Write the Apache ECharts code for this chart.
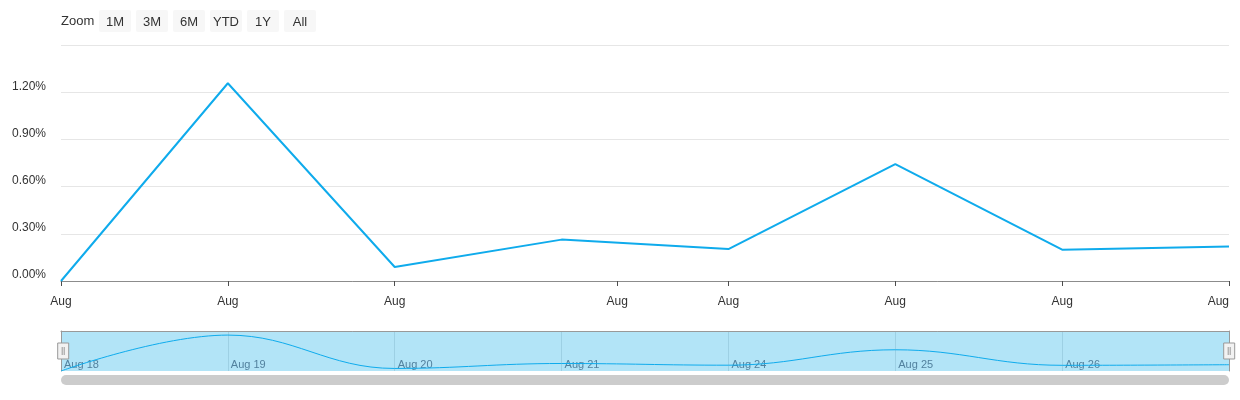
<!DOCTYPE html>
<html>
<head>
<meta charset="utf-8">
<script src="https://cdn.jsdelivr.net/npm/echarts@6/dist/echarts.min.js"></script>
<style>
  html, body { margin: 0; padding: 0; background: #fff; }
  #chart { width: 1240px; height: 400px; }
</style>
</head>
<body>
<div id="chart"></div>
<script>
// trading days, shown on an ordinal axis (gaps for weekends removed)
var dates = ['Aug 18', 'Aug 19', 'Aug 20', 'Aug 21', 'Aug 24', 'Aug 25', 'Aug 26', 'Aug 27'];
var returns = [0, 1.257, 0.089, 0.263, 0.203, 0.743, 0.199, 0.220];
// date ticks of the main axis, in ordinal units (Aug 22 falls a third into the weekend gap)
var xTickPos = [0, 1, 2, 3.333, 4, 5, 6, 7];
var xTickText = 'Aug';
var navTickPos = [0, 1, 2, 3, 4, 5, 6];
var rangeButtons = ['1M', '3M', '6M', 'YTD', '1Y', 'All'];

var FONT = "'Liberation Sans', Arial, sans-serif";
var LINE = '#0fabec';
var NAV_EDGE = '#999';

var chart = echarts.init(document.getElementById('chart'));

var seriesData = returns.map(function (v, i) { return [i, v]; });

// range selector buttons (decoration only)
var btnGraphics = [{
	type: 'text', left: 61, top: 15,
	style: { text: 'Zoom', fill: '#333', font: '13px ' + FONT }
}];
rangeButtons.forEach(function (b, i) {
	btnGraphics.push({
		type: 'group', left: 99 + i * 37, top: 10,
		children: [
			{ type: 'rect', shape: { x: 0, y: 0, width: 32, height: 22, r: 2 }, style: { fill: '#f7f7f7' } },
			{ type: 'text', x: 16, y: 12, style: { text: b, fill: '#333', font: '13px ' + FONT, align: 'center', verticalAlign: 'middle' } }
		]
	});
});
// navigator scrollbar
btnGraphics.push({
	type: 'rect', left: 61, top: 375,
	shape: { width: 1168, height: 10, r: 5 },
	style: { fill: '#cccccc' }
});

var option = {
	animation: false,
	textStyle: { fontFamily: FONT },
	graphic: btnGraphics,
	grid: [
		{ left: 61, right: 11, top: 45, height: 236 },
		{ left: 61, right: 11, top: 331, height: 40, show: true, backgroundColor: '#b2e4f7', borderWidth: 0 }
	],
	xAxis: [{
		type: 'value', gridIndex: 0, min: 0, max: 7,
		axisLine: { show: true, onZero: false, lineStyle: { color: '#8c8c8c', width: 1 } },
		axisTick: { show: true, length: 5, customValues: xTickPos, lineStyle: { color: '#4d4d4d' } },
		axisLabel: {
			customValues: xTickPos, color: '#333', fontSize: 12, margin: 15,
			alignMaxLabel: 'right',
			formatter: function () { return xTickText; }
		},
		splitLine: { show: false }
	}, {
		type: 'value', gridIndex: 1, min: 0, max: 7, interval: 1,
		axisLine: { show: false },
		axisTick: { show: false },
		axisLabel: {
			customValues: navTickPos, inside: true, color: '#52819e', fontSize: 11,
			margin: 1, align: 'left', padding: [0, 0, 0, 3],
			formatter: function (v) { return dates[Math.round(v)]; }
		},
		splitLine: { show: true, lineStyle: { color: '#9dd0e4' } }
	}, {
		// top edge of the navigator
		type: 'value', gridIndex: 1, min: 0, max: 7, position: 'top',
		axisLine: { show: true, onZero: false, lineStyle: { color: NAV_EDGE } },
		axisTick: { show: false }, axisLabel: { show: false }, splitLine: { show: false }
	}],
	yAxis: [{
		type: 'value', gridIndex: 0, min: 0, max: 1.5, interval: 0.3,
		axisLine: { show: false }, axisTick: { show: false },
		axisLabel: {
			color: '#333', fontSize: 12, margin: 15, verticalAlign: 'bottom',
			showMaxLabel: false,
			formatter: function (v) { return v.toFixed(2) + '%'; }
		},
		splitLine: { lineStyle: { color: '#e6e6e6' } }
	}, {
		type: 'value', gridIndex: 1, min: 0, max: 1.4,
		axisLine: { show: true, onZero: false, lineStyle: { color: NAV_EDGE } },
		axisTick: { show: false },
		axisLabel: { show: false }, splitLine: { show: false }
	}, {
		type: 'value', gridIndex: 1, min: 0, max: 1.4, position: 'right',
		axisLine: { show: true, onZero: false, lineStyle: { color: NAV_EDGE } },
		axisTick: { show: false },
		axisLabel: { show: false }, splitLine: { show: false }
	}],
	dataZoom: [{
		type: 'slider', xAxisIndex: [0, 1], filterMode: 'none',
		start: 0, end: 100,
		left: 61, right: 11, top: 331, height: 40,
		backgroundColor: 'rgba(0,0,0,0)',
		fillerColor: 'rgba(0,0,0,0)',
		borderColor: 'rgba(0,0,0,0)', borderRadius: 0,
		showDataShadow: false, showDetail: false,
		brushSelect: false, moveHandleSize: 0,
		handleIcon: 'path://M0,0 L11,0 L11,16 L0,16 Z M4.5,4 L4.5,12 M6.5,4 L6.5,12',
		handleSize: 16,
		handleStyle: { color: '#f2f2f2', borderColor: '#999', borderWidth: 1 },
		emphasis: { handleStyle: { color: '#f2f2f2', borderColor: '#999' } },
		dataBackground: { lineStyle: { opacity: 0 }, areaStyle: { opacity: 0 } },
		selectedDataBackground: { lineStyle: { opacity: 0 }, areaStyle: { opacity: 0 } }
	}],
	series: [{
		type: 'line', xAxisIndex: 0, yAxisIndex: 0,
		data: seriesData, showSymbol: false, symbol: 'none',
		lineStyle: { color: LINE, width: 2 }
	}, {
		type: 'line', xAxisIndex: 1, yAxisIndex: 1,
		data: seriesData, showSymbol: false, symbol: 'none',
		smooth: 0.4,
		lineStyle: { color: LINE, width: 1 }
	}]
};

chart.setOption(option);
</script>
</body>
</html>
